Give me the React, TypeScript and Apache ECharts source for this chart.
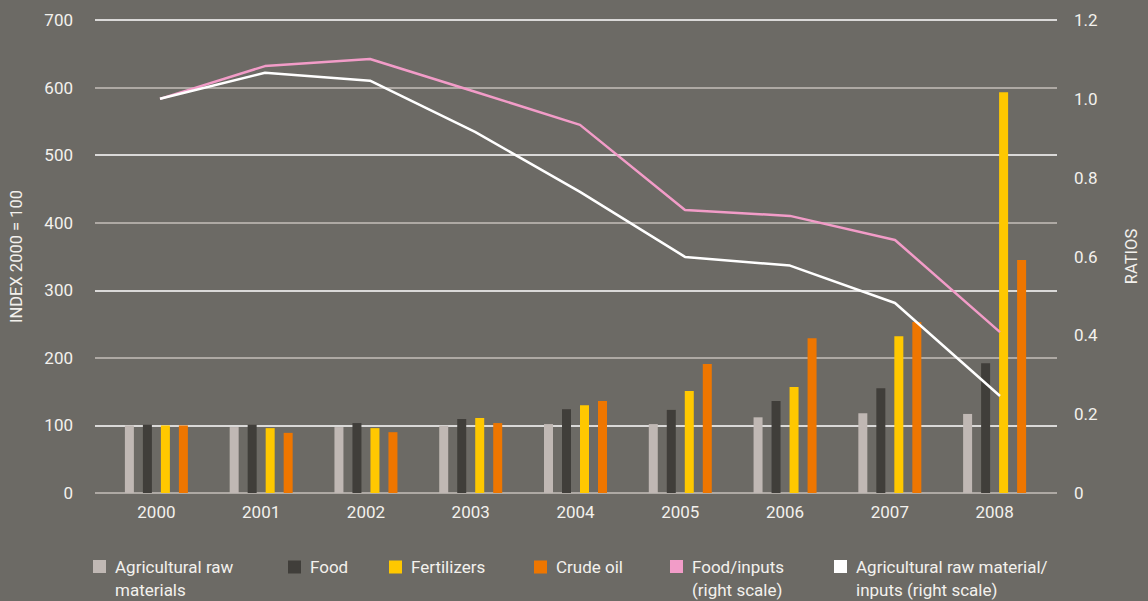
import React, { useEffect, useRef } from "react";
import * as echarts from "echarts";

const years = ["2000", "2001", "2002", "2003", "2004", "2005", "2006", "2007", "2008"];
const agriRaw = [100, 97.6, 97.6, 99.6, 102, 102, 112, 118, 117];
const food = [101, 101, 103.5, 109.5, 124, 123, 136, 155, 192];
const fertilizers = [100, 96, 96, 111, 130, 151, 157, 232, 593];
const crudeOil = [100, 89, 90, 103.5, 136, 191, 229, 253, 345];
const foodRatio = [1.0, 1.083, 1.101, 1.018, 0.934, 0.718, 0.703, 0.642, 0.408];
const agriRatio = [1.0, 1.066, 1.046, 0.916, 0.764, 0.599, 0.577, 0.482, 0.246];

const leftTicks = [0, 100, 200, 300, 400, 500, 600, 700];
const rightTicks = [0, 0.2, 0.4, 0.6, 0.8, 1.0, 1.2];

const legendLabels: Record<string, string> = {
  "Agricultural raw materials": "\nAgricultural raw\nmaterials",
  Food: "Food",
  Fertilizers: "Fertilizers",
  "Crude oil": "Crude oil",
  "Food/inputs (right scale)": "\nFood/inputs\n(right scale)",
  "Agricultural raw material/inputs (right scale)": "\nAgricultural raw material/\ninputs (right scale)",
};

const FONT = "Roboto, 'DejaVu Sans', sans-serif";
const TXT = "#f3f1ed";
const BG = "#6c6a65";

export default function App() {
  const ref = useRef<HTMLDivElement>(null);
  useEffect(() => {
    if (!ref.current) return;
    const chart = echarts.init(ref.current, undefined, { renderer: "svg" });
    const top = 20;
    const height = 473;
    const mkLegend = (name: string, left: number, multi: boolean) => ({
      data: [name],
      left,
      top: multi ? 532 : 555.5,
      padding: 0,
      icon: "rect",
      itemWidth: 13,
      itemHeight: 13,
      formatter: (n: string) => legendLabels[n] ?? n,
      textStyle: {
        color: TXT,
        fontFamily: FONT,
        fontSize: 17,
        lineHeight: 23,
        padding: [0, 0, 0, 4],
      },
    });
    chart.setOption({
      animation: false,
      backgroundColor: BG,
      textStyle: { fontFamily: FONT },
      grid: [
        { left: 94, right: 82, top, height },
        { left: 104, width: 943, top, height },
        { left: 107.5, width: 945, top, height },
      ],
      legend: [
        mkLegend("Agricultural raw materials", 93, true),
        mkLegend("Food", 288, false),
        mkLegend("Fertilizers", 389, false),
        mkLegend("Crude oil", 534, false),
        mkLegend("Food/inputs (right scale)", 670, true),
        mkLegend("Agricultural raw material/inputs (right scale)", 834, true),
      ],
      xAxis: [
        { type: "category", gridIndex: 0, data: years, show: false },
        {
          type: "category",
          gridIndex: 1,
          data: years,
          axisLine: { show: false },
          axisTick: { show: false },
          axisLabel: { color: TXT, fontSize: 17, fontFamily: FONT, margin: 10 },
        },
        { type: "category", gridIndex: 2, data: years, show: false },
      ],
      yAxis: [
        {
          type: "value",
          gridIndex: 0,
          min: leftTicks[0],
          max: leftTicks[leftTicks.length - 1],
          interval: 100,
          position: "left",
          name: "INDEX 2000 = 100",
          nameLocation: "middle",
          nameGap: 70,
          nameRotate: 90,
          nameTextStyle: { color: TXT, fontSize: 16.5, fontFamily: FONT },
          axisLine: { show: false },
          axisTick: { show: false },
          axisLabel: { color: TXT, fontSize: 17, fontFamily: FONT, margin: 22 },
          splitLine: { show: true, lineStyle: { color: ["#c4bfba", "#ffffff"], width: 1.5 } },
        },
        {
          type: "value",
          gridIndex: 0,
          min: rightTicks[0],
          max: rightTicks[rightTicks.length - 1],
          interval: 0.2,
          position: "right",
          name: "RATIOS",
          nameLocation: "middle",
          nameGap: 66,
          nameRotate: 90,
          nameTextStyle: { color: TXT, fontSize: 16.5, fontFamily: FONT },
          axisLine: { show: false },
          axisTick: { show: false },
          axisLabel: {
            color: TXT,
            fontSize: 17,
            fontFamily: FONT,
            margin: 17,
            formatter: (v: number) => (v === 0 ? "0" : v.toFixed(1)),
          },
          splitLine: { show: false },
        },
        { type: "value", gridIndex: 1, min: 0, max: 700, show: false, splitLine: { show: false } },
        { type: "value", gridIndex: 2, min: 0, max: 1.2, show: false, splitLine: { show: false } },
      ],
      series: [
        { name: "Agricultural raw materials", type: "bar", xAxisIndex: 1, yAxisIndex: 2, data: agriRaw, barWidth: 9, barGap: "100%", itemStyle: { color: "#c0b8b4" } },
        { name: "Food", type: "bar", xAxisIndex: 1, yAxisIndex: 2, data: food, barWidth: 9, barGap: "100%", itemStyle: { color: "#403e3a" } },
        { name: "Fertilizers", type: "bar", xAxisIndex: 1, yAxisIndex: 2, data: fertilizers, barWidth: 9, barGap: "100%", itemStyle: { color: "#ffc800" } },
        { name: "Crude oil", type: "bar", xAxisIndex: 1, yAxisIndex: 2, data: crudeOil, barWidth: 9, barGap: "100%", itemStyle: { color: "#ee7600" } },
        { name: "Food/inputs (right scale)", type: "line", xAxisIndex: 2, yAxisIndex: 3, data: foodRatio, symbol: "none", lineStyle: { color: "#f29cc8", width: 2.5 }, itemStyle: { color: "#f29cc8" } },
        { name: "Agricultural raw material/inputs (right scale)", type: "line", xAxisIndex: 2, yAxisIndex: 3, data: agriRatio, symbol: "none", lineStyle: { color: "#ffffff", width: 2.5 }, itemStyle: { color: "#ffffff" } },
      ],
    });
    return () => chart.dispose();
  }, []);
  return (
    <div
      ref={ref}
      style={{ position: "fixed", left: 0, top: 0, width: 1148, height: 601 }}
    />
  );
}
